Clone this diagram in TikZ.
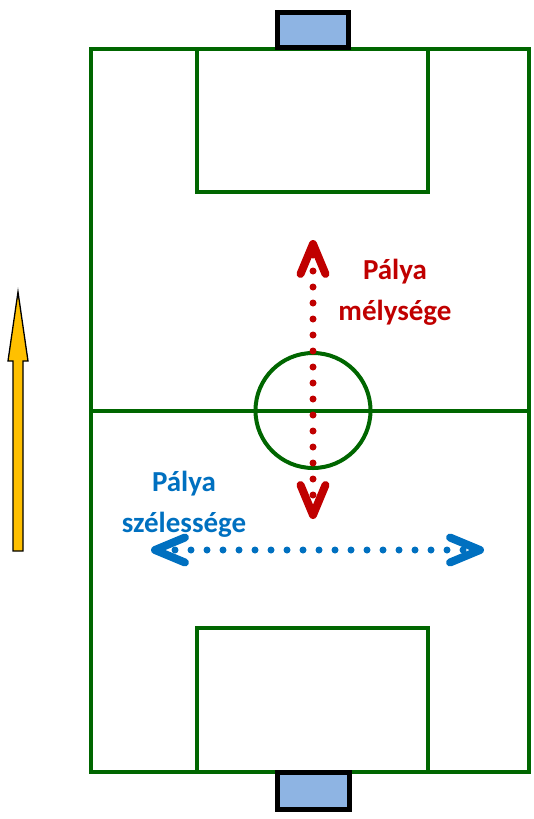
\documentclass[tikz,border=0pt]{standalone}
\usepackage{fontspec}
\setmainfont{Carlito}
\usetikzlibrary{arrows.meta,positioning}
\definecolor{pitchgreen}{RGB}{0,102,0}
\definecolor{goalblue}{RGB}{142,180,227}
\definecolor{depthred}{RGB}{192,0,0}
\definecolor{widthblue}{RGB}{0,112,192}
\definecolor{runyellow}{RGB}{255,192,0}

\begin{document}
\begin{tikzpicture}[x=1pt,y=-1pt]
 \tikzset{field line/.style={draw=pitchgreen, line width=4pt}, }
 \tikzset{goal box/.style={draw=black, line width=5pt, fill=goalblue}, }
 \tikzset{barb/.tip={Straight Barb[round,length=30pt,width=25pt,line width=8pt]}, }
 \tikzset{dot arrow/.style={line width=7pt, line cap=round,
 		dash pattern=on 0pt off 16pt, barb-barb}, }
 \tikzset{label text/.style={font=\bfseries\fontsize{29}{41}\selectfont,
 		align=center, inner sep=0pt}, }
 \useasboundingbox (0,0) rectangle (533,819);
 % palya
 \draw[field line] (91,49) rectangle (529,772);
 \draw[field line] (197,49) rectangle (428,192);
 \draw[field line] (197,628) rectangle (428,772);
 \coordinate (kozep) at (313,410.5);
 \draw[field line] (91,410.5) -- (529,410.5);
 \draw[field line] (kozep) circle (57.5);
 % kapuk
 \draw[goal box] (277.5,12.5) rectangle (348.5,47.5);
 \draw[goal box] (277.5,772.5) rectangle (349.5,809.5);
 % nyilak
 \coordinate (mely1) at (313,240);
 \coordinate (mely2) at (313,519);
 \coordinate (szel1) at (151,550);
 \coordinate (szel2) at (484,550);
 \draw[dot arrow, draw=depthred] (mely2) -- (mely1);
 \draw[dot arrow, draw=widthblue] (szel1) -- (szel2);
 \node[label text, text=depthred] (melyseg) at (395,292) {Pálya\\mélysége};
 \node[label text, text=widthblue] (szelesseg) at (184,504) {Pálya\\szélessége};
 % irany
 \draw[fill=runyellow, draw=black, line width=1.3pt]
 	(13,551) -- (13,361) -- (8,361) -- (18,292) -- (28,361) -- (23,361) -- (23,551) -- cycle;
\end{tikzpicture}
\end{document}
